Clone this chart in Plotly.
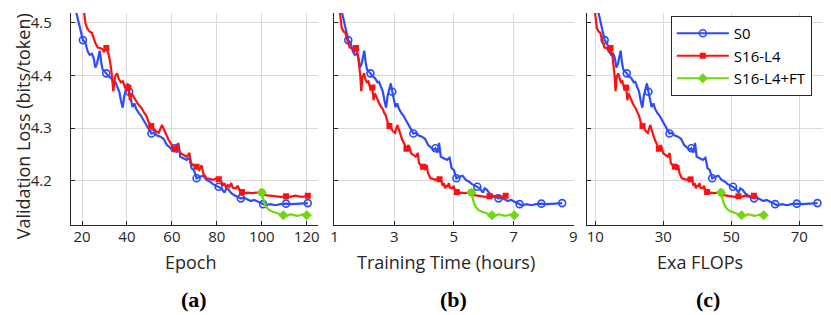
import plotly.graph_objects as go

# ---------------- data ----------------
s0_epoch = [16.3, 20.4, 21.5, 22.5, 23.4, 24.4, 25.2, 25.9, 26.7, 27.9, 28.6, 29.2, 30.8, 31.9, 32.9,
            34.1, 34.8, 35.6, 36.6, 37.3, 38.1, 38.8, 39.6, 40.3, 41.0, 41.8, 42.5, 43.3, 44.1, 45.2,
            46.2, 47.4, 48.4, 49.6, 50.9, 52.2, 53.4, 54.9, 56.3, 57.8, 59.3, 60.4, 61.2, 62.2, 62.9,
            63.7, 65.1, 66.6, 67.8, 68.8, 69.8, 71.0, 72.4, 73.9, 75.4, 76.8, 78.3, 79.8, 80.8, 82.0,
            83.4, 84.2, 85.3, 86.4, 87.8, 89.3, 90.7, 92.2, 93.7, 95.1, 96.6, 98.1, 99.5, 100.6, 101.7,
            103.9, 106.1, 108.3, 110.8, 113.4, 116.4, 118.6, 120.5]
s0_loss = [4.540, 4.467, 4.462, 4.446, 4.439, 4.441, 4.433, 4.415, 4.423, 4.447, 4.423, 4.411, 4.404, 4.398, 4.395,
           4.387, 4.388, 4.379, 4.369, 4.353, 4.339, 4.361, 4.377, 4.385, 4.369, 4.353, 4.340, 4.347, 4.337, 4.329,
           4.324, 4.315, 4.308, 4.300, 4.290, 4.291, 4.286, 4.284, 4.280, 4.268, 4.263, 4.259, 4.262, 4.254, 4.272,
           4.246, 4.243, 4.240, 4.244, 4.224, 4.221, 4.205, 4.208, 4.210, 4.202, 4.199, 4.194, 4.191, 4.189, 4.186,
           4.178, 4.186, 4.183, 4.177, 4.173, 4.170, 4.167, 4.168, 4.165, 4.162, 4.164, 4.161, 4.159, 4.156, 4.154,
           4.156, 4.154, 4.156, 4.157, 4.156, 4.157, 4.157, 4.158]
s0_marker_epochs = [20.4, 30.8, 41.0, 50.9, 61.2, 71.0, 80.8, 90.7, 100.6, 110.8, 120.5]

s16_epoch = [20.5, 21.5, 22.2, 23.4, 24.4, 25.2, 25.9, 27.0, 28.1, 29.3, 29.7, 30.8, 31.9, 32.6, 33.3,
             33.9, 34.7, 35.6, 36.4, 37.3, 38.2, 39.0, 39.7, 40.6, 41.3, 42.1, 43.0, 43.9, 44.7, 45.6,
             46.7, 47.7, 48.6, 49.6, 50.8, 51.9, 53.0, 54.1, 55.6, 57.1, 58.5, 60.0, 61.0, 62.2, 62.9,
             63.7, 65.1, 66.6, 67.8, 68.5, 69.5, 71.0, 72.2, 73.2, 73.9, 75.4, 76.8, 78.3, 79.8, 80.9,
             82.0, 82.7, 83.4, 84.2, 84.9, 85.6, 86.4, 87.1, 88.6, 89.3, 90.0, 91.2, 92.2, 93.7, 95.9,
             98.1, 100.0, 101.7, 103.9, 106.1, 108.3, 110.8, 112.7, 114.9, 117.8, 120.5]
s16_loss = [4.535, 4.500, 4.490, 4.483, 4.481, 4.471, 4.462, 4.453, 4.452, 4.449, 4.444, 4.452, 4.439, 4.423, 4.401,
            4.370, 4.398, 4.404, 4.393, 4.387, 4.389, 4.379, 4.372, 4.377, 4.353, 4.366, 4.358, 4.353, 4.347, 4.342,
            4.337, 4.329, 4.324, 4.312, 4.304, 4.299, 4.294, 4.291, 4.306, 4.291, 4.278, 4.268, 4.261, 4.268, 4.263,
            4.253, 4.249, 4.246, 4.253, 4.234, 4.230, 4.227, 4.221, 4.230, 4.215, 4.205, 4.204, 4.202, 4.205, 4.203,
            4.199, 4.191, 4.196, 4.186, 4.192, 4.189, 4.196, 4.187, 4.186, 4.191, 4.183, 4.179, 4.177, 4.178, 4.177,
            4.178, 4.178, 4.173, 4.172, 4.170, 4.170, 4.171, 4.170, 4.172, 4.170, 4.172]
s16_marker_epochs = [30.8, 40.6, 50.8, 61.0, 71.0, 80.9, 91.2, 100.0, 110.8, 120.5]

ft_epoch = [100.0, 100.6, 101.1, 102.0, 103.2, 104.7, 106.4, 108.3, 109.6, 111.2, 112.7, 114.2, 115.6, 117.1,
            118.6, 120.0]
ft_loss = [4.178, 4.167, 4.159, 4.151, 4.145, 4.142, 4.139, 4.137, 4.135, 4.134, 4.137, 4.135, 4.134, 4.135,
           4.137, 4.135]
ft_marker_epochs = [100.0, 109.6, 120.0]

hours_per_epoch_s0 = 0.0716
hours_per_epoch_s16 = 0.0559
eflops_per_epoch_s0 = 0.625
eflops_per_epoch_s16 = 0.470
ft_start_epoch = 100.0

series_names = ["S0", "S16-L4", "S16-L4+FT"]
panel_labels = ["(a)", "(b)", "(c)"]
x_titles = ["Epoch", "Training Time (hours)", "Exa FLOPs"]
x_ticks = [[20, 40, 60, 80, 100, 120], [1, 3, 5, 7, 9], [10, 30, 50, 70]]
y_ticks = [4.2, 4.3, 4.4, 4.5]

# ---------------- derived x values per panel ----------------
ft_start_hours = ft_start_epoch * hours_per_epoch_s16
ft_start_eflops = ft_start_epoch * eflops_per_epoch_s16
xs = {
    "S0": [s0_epoch, [e * hours_per_epoch_s0 for e in s0_epoch], [e * eflops_per_epoch_s0 for e in s0_epoch]],
    "S16-L4": [s16_epoch, [e * hours_per_epoch_s16 for e in s16_epoch], [e * eflops_per_epoch_s16 for e in s16_epoch]],
    "S16-L4+FT": [ft_epoch,
                  [ft_start_hours + (e - ft_start_epoch) * hours_per_epoch_s0 for e in ft_epoch],
                  [ft_start_eflops + (e - ft_start_epoch) * eflops_per_epoch_s0 for e in ft_epoch]],
}
ys = {"S0": s0_loss, "S16-L4": s16_loss, "S16-L4+FT": ft_loss}
mk_idx = {
    "S0": [s0_epoch.index(e) for e in s0_marker_epochs],
    "S16-L4": [s16_epoch.index(e) for e in s16_marker_epochs],
    "S16-L4+FT": [ft_epoch.index(e) for e in ft_marker_epochs],
}

colors = {"S0": "#2b4cff", "S16-L4": "#ff1010", "S16-L4+FT": "#6fd80f"}


def marker_style(name):
    c = colors[name]
    if name == "S0":
        return dict(symbol="circle-open", size=7, color=c, line=dict(width=1.6, color=c))
    if name == "S16-L4":
        return dict(symbol="square", size=6, color=c, line=dict(width=0, color=c))
    return dict(symbol="diamond", size=7, color=c, line=dict(width=1, color=c))


W, H = 831, 315
ML, MR, MT, MB = 63, 4, 5, 98
PW, PH = W - ML - MR, H - MT - MB


def px2x(px):
    return (px - ML) / PW


def px2y(py):
    return (H - MB - py) / PH


domains = [[0, px2x(311)], [px2x(327), px2x(568.5)], [px2x(581.7), 1.0]]
x_ranges = [[15.1, 124.9], [0.97, 9.02], [7.55, 79.3]]
y_range = [4.1165, 4.5184]

fig = go.Figure()
axis_names = [("x", "y"), ("x2", "y2"), ("x3", "y3")]
for p in range(3):
    xa, ya = axis_names[p]
    for name in series_names:
        X = xs[name][p]
        Y = ys[name]
        fig.add_trace(go.Scatter(x=X, y=Y, mode="lines", line=dict(color=colors[name], width=2.2),
                                 xaxis=xa, yaxis=ya, showlegend=False, hoverinfo="skip"))
        fig.add_trace(go.Scatter(x=[X[i] for i in mk_idx[name]], y=[Y[i] for i in mk_idx[name]],
                                 mode="markers", marker=marker_style(name),
                                 xaxis=xa, yaxis=ya, showlegend=False, hoverinfo="skip"))

# legend entries
for name in series_names:
    fig.add_trace(go.Scatter(x=[None], y=[None], mode="lines+markers", name=name,
                             line=dict(color=colors[name], width=2.2), marker=marker_style(name),
                             xaxis="x3", yaxis="y3"))

FONT = "Open Sans"
TXT = "#262626"
common_axis = dict(showline=True, linecolor=TXT, linewidth=1.3, mirror=False, ticks="inside", ticklen=4,
                   tickwidth=1, tickcolor=TXT, showgrid=True, gridcolor="#dadada", gridwidth=1,
                   zeroline=False, tickfont=dict(family=FONT, size=15, color=TXT))

layout = dict(width=W, height=H, margin=dict(l=ML, r=MR, t=MT, b=MB), plot_bgcolor="white",
              paper_bgcolor="white", font=dict(family=FONT, color=TXT))
for p in range(3):
    suffix = "" if p == 0 else str(p + 1)
    layout["xaxis" + suffix] = dict(common_axis, domain=domains[p], range=x_ranges[p], tickvals=x_ticks[p],
                                    anchor="y" + suffix, ticklabelstandoff=-2)
    layout["yaxis" + suffix] = dict(common_axis, domain=[0, 1], range=y_range, tickvals=y_ticks,
                                    anchor="x" + suffix, showticklabels=(p == 0), ticklabelstandoff=15)
layout["legend"] = dict(x=px2x(666), y=px2y(8), xanchor="left", yanchor="top", bgcolor="white",
                        bordercolor=TXT, borderwidth=1, itemwidth=52,
                        font=dict(family=FONT, size=15, color="black"), tracegroupgap=0)
fig.update_layout(**layout)

annotations = []
title_centers = [184, 440, 695]
label_centers = [187, 448, 703]
for p in range(3):
    annotations.append(dict(text=x_titles[p], x=px2x(title_centers[p]), y=px2y(254), xref="paper", yref="paper",
                            xanchor="center", yanchor="middle", showarrow=False,
                            font=dict(family=FONT, size=18, color=TXT)))
    annotations.append(dict(text="<b>" + panel_labels[p] + "</b>", x=px2x(label_centers[p]), y=px2y(291),
                            xref="paper", yref="paper", xanchor="center", yanchor="middle", showarrow=False,
                            font=dict(family="Liberation Serif", size=22, color="black")))
annotations.append(dict(text="Validation Loss (bits/token)", x=px2x(15), y=px2y(118), xref="paper", yref="paper",
                        xanchor="center", yanchor="middle", textangle=-90, showarrow=False,
                        font=dict(family=FONT, size=18, color=TXT)))
fig.update_layout(annotations=annotations)

fig.write_html("out.html")
